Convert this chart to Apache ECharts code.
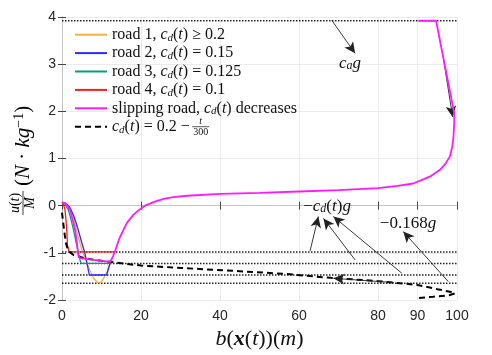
<!DOCTYPE html>
<html><head><meta charset="utf-8">
<script src="https://cdn.jsdelivr.net/npm/echarts@6/dist/echarts.min.js"></script>
<style>html,body{margin:0;padding:0;background:#fff}#c{width:492px;height:355px}</style>
</head><body><div id="c"></div>
<script>
const SERIF = '"Liberation Serif","DejaVu Serif",serif';
const SANS = '"Liberation Sans",Arial,sans-serif';

const xTicks = [0, 20, 40, 60, 80, 90, 100];
const yTicks = [-2, -1, 0, 1, 2, 3, 4];
const dottedLevels = [3.92, -0.98, -1.225, -1.47, -1.6464];

const road1 = [[0,0.07],[1,0.05],[2,-0.06],[3,-0.3],[4,-0.62],[5,-0.93],[6,-1.15],[7,-1.36],[8,-1.54],[9,-1.63],[9.4,-1.645],[10,-1.62],[10.8,-1.5],[11.5,-1.38],[12.2,-1.21]];
const road2 = [[0,0.07],[1,0.05],[2,-0.04],[3,-0.22],[4,-0.48],[5,-0.78],[5.8,-1.01],[6.4,-1.25],[6.9,-1.47],[11.3,-1.47],[12.2,-1.21]];
const road3 = [[0,0.07],[0.8,0.03],[1.6,-0.09],[2.3,-0.3],[2.9,-0.51],[3.5,-0.75],[4,-0.94],[4.4,-1.1],[4.8,-1.225],[12.2,-1.225]];
const road4 = [[0,0.07],[0.4,0.02],[0.76,-0.09],[1,-0.3],[1.2,-0.51],[1.4,-0.85],[1.8,-0.98],[13.4,-0.98]];
const slipping = [[0,0.07],[1,0.04],[2,-0.09],[2.7,-0.3],[3.3,-0.51],[3.8,-0.8],[4.1,-1.05],[4.6,-1.11],[8,-1.15],[12.2,-1.19],[12.8,-1.1],[13.4,-0.97],[14.5,-0.7],[16.4,-0.37],[18,-0.2],[19.5,-0.09],[21,0],[23.5,0.085],[26,0.15],[28.2,0.18],[31.6,0.21],[40,0.25],[50,0.27],[60,0.3],[70,0.33],[80,0.37],[85,0.42],[88.9,0.47],[91,0.54],[93.2,0.62],[95.7,0.76],[97,0.88],[98.2,1.04],[98.8,1.25],[99.1,1.45],[99.3,1.75],[99.3,1.96],[94.7,3.92],[90.2,3.92]];
const cdLine = [[0,-0.15],[0.5,-0.5],[1,-0.8],[1.6,-0.96],[3,-1.05],[6,-1.12],[10,-1.17],[15,-1.22],[20,-1.27],[30,-1.32],[45,-1.39],[57,-1.45],[68,-1.53],[80,-1.6],[90,-1.68],[95,-1.77],[98.5,-1.83],[99.5,-1.86],[98,-1.9],[94,-1.93],[89.8,-1.96]];

const arrowFrom = [[68.3,3.93],[96.6,3.1],[62.8,-0.96],[74.2,-1.15],[86,-1.43],[97.8,-1.61],[84,-1.63]];
const arrowTo   = [[74.2,3.23],[98.9,1.88],[64.9,-0.23],[66.2,-0.27],[68.7,-0.23],[86.4,-0.55],[68.7,-1.54]];
const noteText = ['{i|c}{s|a}{i|g}', '{n|−}{i|c}{s|d}{n|(}{i|t}{n|)}{i|g}', '{n|−0.168}{i|g}'];
const notePos  = [[72.9,3.02],[67.1,-0.01],[87.6,-0.37]];

const names = ['road1','road2','road3','road4','slip','cd'];
const legendText = [
  '{n|road 1, }{i|c}{s|d}{n|(}{i|t}{n|) ≥ 0.2}',
  '{n|road 2, }{i|c}{s|d}{n|(}{i|t}{n|) = 0.15}',
  '{n|road 3, }{i|c}{s|d}{n|(}{i|t}{n|) = 0.125}',
  '{n|road 4, }{i|c}{s|d}{n|(}{i|t}{n|) = 0.1}',
  '{n|slipping road, }{i|c}{s|d}{n|(}{i|t}{n|) decreases}',
  '{i|c}{s|d}{n|(}{i|t}{n|) = 0.2 − }'
];
const colors = ['#F2B33D','#2B2BFF','#00A36F','#FF1A1A','#FF1AFF','#000'];

function rich(sz){
  return {
    n:{fontFamily:SERIF,fontSize:sz,color:'#111'},
    i:{fontFamily:SERIF,fontSize:sz,fontStyle:'italic',color:'#111'},
    b:{fontFamily:SERIF,fontSize:sz,fontStyle:'italic',fontWeight:'bold',color:'#111'},
    s:{fontFamily:SERIF,fontSize:Math.round(sz*0.68),fontStyle:'italic',verticalAlign:'bottom',color:'#111'},
    p:{fontFamily:SERIF,fontSize:Math.round(sz*0.68),verticalAlign:'top',color:'#111'}
  };
}
const LFS = 16;

const chart = echarts.init(document.getElementById('c'), null, {renderer:'canvas'});
const series = [];
dottedLevels.forEach((v,k)=>{
  series.push({type:'line', name:'lvl'+k, data:[[0,v],[100,v]], symbol:'none', silent:true,
    lineStyle:{color:'#222', width:1.5, type:[1.5,1.5]}, z:1});
});
[road1,road2,road3,road4].forEach((d,k)=>{
  series.push({type:'line', name:names[k], data:d, symbol:'none', silent:true,
    lineStyle:{color:colors[k], width:1.3}, itemStyle:{color:colors[k]}, z:3});
});
series.push({type:'line', name:'cd', data:cdLine, symbol:'none', silent:true,
  lineStyle:{color:'#000', width:2, type:[6,4]}, itemStyle:{color:'#000'}, z:4});
series.push({type:'line', name:'slip', data:slipping, symbol:'none', silent:true,
  lineStyle:{color:colors[4], width:1.8}, itemStyle:{color:colors[4]}, z:5});
// annotations
series.push({type:'line', name:'ann', data:[], symbol:'none', silent:true, z:6,
  markLine:{silent:true, symbol:['none','arrow'], symbolSize:[8,11], animation:false,
    lineStyle:{color:'#222', width:0.9, type:'solid'}, label:{show:false},
    data: arrowFrom.map((f,k)=>[{coord:f},{coord:arrowTo[k]}])},
  markPoint:{silent:true, symbol:'rect', symbolSize:1, itemStyle:{color:'rgba(0,0,0,0)'}, animation:false,
    label:{show:true, position:'inside', color:'#111', rich:rich(17)},
    data: notePos.map((p,k)=>({coord:p, label:{formatter:noteText[k]}}))}
});

const option = {
  animation:false,
  backgroundColor:'#fff',
  grid:{left:62, right:35, top:17, bottom:55},
  legend:{data:names, orient:'vertical', left:74, top:26, padding:0, itemWidth:32, itemHeight:12, itemGap:1,
    selectedMode:false, formatter:n=>legendText[names.indexOf(n)],
    itemStyle:{opacity:0},
    textStyle:{fontFamily:SERIF, fontSize:LFS, lineHeight:17.4, rich:rich(LFS)}},
  xAxis:[{type:'value', min:0, max:100, position:'bottom',
      axisLine:{show:true, lineStyle:{color:'#c4c4c4'}},
      axisTick:{show:true, inside:true, length:4, lineStyle:{color:'#444'}, customValues:xTicks},
      axisLabel:{customValues:xTicks, fontFamily:SANS, fontSize:14, color:'#262626', margin:9},
      splitLine:{show:true, lineStyle:{color:'#ebebeb', width:1}},
      name:'{i|b}{n|(}{b|x}{n|(}{i|t}{n|))(}{i|m}{n|)}', nameLocation:'middle', nameGap:22,
      nameTextStyle:{rich:rich(22)}},
    {type:'value', min:0, max:100, position:'top',
      axisLine:{show:true, lineStyle:{color:'#c4c4c4'}},
      axisTick:{show:true, inside:true, length:4, lineStyle:{color:'#444'}, customValues:xTicks},
      axisLabel:{show:false}, splitLine:{show:false}}],
  yAxis:[{type:'value', min:-2, max:4, interval:1, position:'left',
      axisLine:{show:true, lineStyle:{color:'#c4c4c4'}},
      axisTick:{show:true, inside:true, length:4, lineStyle:{color:'#444'}},
      axisLabel:{fontFamily:SANS, fontSize:14, color:'#262626', margin:6},
      splitLine:{show:true, lineStyle:{color:'#ebebeb', width:1}}},
    {type:'value', min:-2, max:4, interval:1, position:'right',
      axisLine:{show:true, lineStyle:{color:'#c4c4c4'}},
      axisTick:{show:true, inside:true, length:4, lineStyle:{color:'#444'}},
      axisLabel:{show:false}, splitLine:{show:false}}],
  series: series
};
chart.setOption(option);

// measure legend text to place the stacked fraction t/300
const cv = document.createElement('canvas').getContext('2d');
function w(font, s){ cv.font = font; return cv.measureText(s).width; }
const subFs = Math.round(LFS*0.68);
const wLead = w('italic '+LFS+'px '+SERIF,'c') + w('italic '+subFs+'px '+SERIF,'d') + w(LFS+'px '+SERIF,'(') +
  w('italic '+LFS+'px '+SERIF,'t') + w(LFS+'px '+SERIF,') = 0.2 − ');
const fx = 74 + 32 + 5 + wLead + 8;
const fy = 26 + 5*18.4 + 8.7;
chart.setOption({graphic:[
  {type:'text', x:fx, y:fy-5.5, style:{text:'t', font:'italic 10px '+SERIF, fill:'#111', align:'center', verticalAlign:'middle', textAlign:'center', textVerticalAlign:'middle'}},
  {type:'line', shape:{x1:fx-8.5, y1:fy, x2:fx+8.5, y2:fy}, style:{stroke:'#111', lineWidth:0.7}},
  {type:'text', x:fx, y:fy+5.5, style:{text:'300', font:'10px '+SERIF, fill:'#111', align:'center', verticalAlign:'middle', textAlign:'center', textVerticalAlign:'middle'}},
  {type:'group', x:23, y:218, rotation:Math.PI/2, children:[
    {type:'text', x:15, y:-7.5, style:{text:'{i|u}{n|(}{i|t}{n|)}', rich:rich(14), align:'center', verticalAlign:'middle', textAlign:'center', textVerticalAlign:'middle'}},
    {type:'line', shape:{x1:3, y1:0, x2:27, y2:0}, style:{stroke:'#111', lineWidth:0.8}},
    {type:'text', x:15, y:7.5, style:{text:'{i|M}', rich:rich(14), align:'center', verticalAlign:'middle', textAlign:'center', textVerticalAlign:'middle'}},
    {type:'text', x:32, y:0, style:{text:'{n|(}{i|N}{n| · }{i|kg}{p|−1}{n|)}', rich:rich(21), align:'left', verticalAlign:'middle', textAlign:'left', textVerticalAlign:'middle'}}
  ]}
]});
</script></body></html>
